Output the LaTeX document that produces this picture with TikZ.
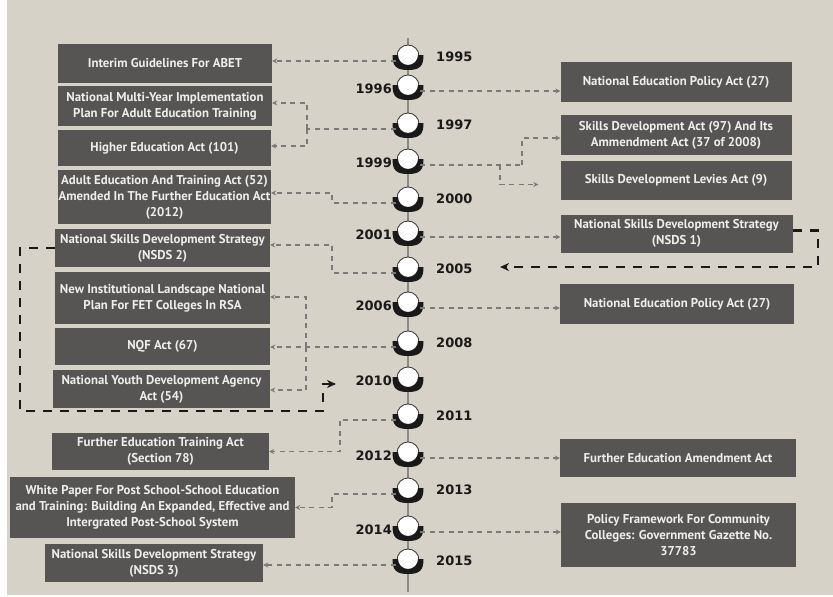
\documentclass[tikz,border=0pt]{standalone}
\usepackage{fontspec}
\setmainfont{PT Sans}
\newfontfamily\yearfont{DejaVu Sans}
\usetikzlibrary{arrows.meta}
\definecolor{paper}{HTML}{D7D2C8}
\definecolor{boxc}{HTML}{575553}
\definecolor{boxtxt}{HTML}{EDEDED}
\definecolor{linec}{HTML}{7A7A7A}
\definecolor{stemc}{HTML}{8C8A86}
\tikzset{
  yearicon/.pic={
    \fill[white] (0,0) circle[radius=11];
    \draw[line width=0.8pt,black!80] (0,0) circle[radius=11];
    \fill[black!90] (-15.5,-1) .. controls (-15.5,10) and (-12,14) .. (0,14)
      .. controls (12,14) and (15.5,10) .. (15.5,-1) -- (10,-1)
      arc[start angle=0,end angle=180,radius=10] -- cycle;
  }
}
\begin{document}
\begin{tikzpicture}[x=1pt,y=-1pt,
  box/.style={fill=boxc,text=boxtxt,font=\bfseries\fontsize{12.8}{16}\selectfont,align=center,inner sep=0pt},
  conn/.style={draw=linec,line width=1.1pt,dash pattern=on 5pt off 4.5pt,-{Stealth[length=5pt,width=5pt]}},
  connplain/.style={draw=linec,line width=1.1pt,dash pattern=on 5pt off 4.5pt},
  bigdash/.style={draw=black!90,line width=2.2pt,dash pattern=on 9pt off 8pt,-{Stealth[length=9pt,width=8pt]}},
  yr/.style={font=\yearfont\bfseries\fontsize{13}{15}\selectfont,text=black!90,inner sep=0pt},
  ipt/.style={circle,inner sep=0pt,minimum size=24pt}
]
\useasboundingbox (0,0) rectangle (833,597);
\fill[white] (0,0) rectangle (833,597);
\fill[paper] (7,0) rectangle (833,595);

% stem
\draw[stemc,line width=1.5pt] (408,38) -- (408,592);

% icons
\foreach \yy/\ay in {1995/61,1996/91,1997/129,1999/165,2000/203,2001/237,2005/273,2006/308,2008/347,2010/383,2011/420,2012/458,2013/494,2014/532,2015/565}{
  \node[ipt] (i\yy) at (408,\ay) {};
  \pic at (408,\ay-5) {yearicon};
}

% year labels
\foreach \yy/\ay in {1995/61,1997/129,2000/203,2005/273,2008/347,2011/420,2013/494,2015/565}{
  \node[yr,anchor=west] (t\yy) at (436,\ay-4) {\yy};
}
\foreach \yy/\ay in {1996/91,1999/165,2001/237,2006/308,2010/383,2012/458,2014/532}{
  \node[yr,anchor=east] (t\yy) at (392,\ay-2) {\yy};
}

% left boxes
\node[box,minimum width=214pt,minimum height=39pt] (L1) at (165,63.5) {Interim Guidelines For ABET};
\node[box,minimum width=214pt,minimum height=40pt] (L2) at (165,106) {National Multi-Year Implementation\\Plan For Adult Education Training};
\node[box,minimum width=213pt,minimum height=36pt] (L3) at (164.5,148) {Higher Education Act (101)};
\node[box,minimum width=213pt,minimum height=54pt] (L4) at (164.5,197) {Adult Education And Training Act (52)\\Amended In The Further Education Act\\(2012)};
\node[box,minimum width=215pt,minimum height=38pt] (L5) at (162.5,248) {National Skills Development Strategy\\(NSDS 2)};
\node[box,minimum width=215pt,minimum height=52pt] (L6) at (162.5,298) {New Institutional Landscape National\\Plan For FET Colleges In RSA};
\node[box,minimum width=215pt,minimum height=37pt] (L7) at (162.5,346.5) {NQF Act (67)};
\node[box,minimum width=217pt,minimum height=38pt] (L8) at (161.5,389) {National Youth Development Agency\\Act (54)};
\node[box,minimum width=217pt,minimum height=37pt] (L9) at (160.5,451.5) {Further Education Training Act\\(Section 78)};
\node[box,minimum width=285pt,minimum height=61pt] (L10) at (152.5,507.5) {White Paper For Post School-School Education\\and Training: Building An Expanded, Effective and\\Intergrated Post-School System};
\node[box,minimum width=218pt,minimum height=38pt] (L11) at (154,563) {National Skills Development Strategy\\(NSDS 3)};

% right boxes
\node[box,minimum width=231pt,minimum height=40pt] (R1) at (676,82) {National Education Policy Act (27)};
\node[box,minimum width=231pt,minimum height=40pt] (R2) at (676,135) {Skills Development Act (97) And Its\\Ammendment Act (37 of 2008)};
\node[box,minimum width=231pt,minimum height=39pt] (R3) at (676,180.5) {Skills Development Levies Act (9)};
\node[box,minimum width=232pt,minimum height=38pt] (R4) at (676.5,233.5) {National Skills Development Strategy\\(NSDS 1)};
\node[box,minimum width=234pt,minimum height=40pt] (R5) at (677,304) {National Education Policy Act (27)};
\node[box,minimum width=236pt,minimum height=38pt] (R6) at (678,458) {Further Education Amendment Act};
\node[box,minimum width=235pt,minimum height=64pt] (R7) at (678.5,535) {Policy Framework For Community\\Colleges: Government Gazette No.\\37783};

% junction coordinates
\coordinate (j1997) at (307,129);
\coordinate (j1999a) at (522,165);
\coordinate (j1999b) at (500,165);
\coordinate (j2000) at (332,203);
\coordinate (j2005) at (332,273);
\coordinate (j2008) at (306,347);
\coordinate (j2011) at (340,420);
\coordinate (j2013) at (332,494);
\coordinate (k1) at (818,267);
\coordinate (k2) at (500,267);
\coordinate (k3) at (20,411);
\coordinate (k4) at (323,384);
\coordinate (k5) at (336,384);

% connectors
\draw[conn] (i1995.west) -- (L1.east |- i1995.west);
\draw[conn] (i1996.east) -- (R1.west |- i1996.east);
\draw[connplain] (i1997.west) -- (j1997);
\draw[conn] (j1997) |- ([yshift=3pt]L2.east);
\draw[conn] (j1997) |- ([yshift=2pt]L3.east);
\draw[connplain] (i1999.east) -- (j1999a);
\draw[conn] (j1999a) |- ([yshift=-3pt]R2.west);
\draw[conn,shorten >=22pt] (j1999b) |- ([yshift=-4pt]R3.west);
\draw[conn] (i2000.west) -- (j2000) |- ([yshift=4pt]L4.east);
\draw[conn] (i2001.east) -- (R4.west |- i2001.east);
\draw[conn] (i2005.west) -- (j2005) |- ([yshift=3pt]L5.east);
\draw[conn] (i2006.east) -- (R5.west |- i2006.east);
\draw[conn] (i2008.west) -- (L7.east |- i2008.west);
\draw[conn] (j2008) |- ([yshift=1pt]L6.east);
\draw[conn] (j2008) |- ([yshift=-1pt]L8.east);
\draw[conn] (i2011.west) -- (j2011) |- (L9.east);
\draw[conn] (i2012.east) -- (R6.west |- i2012.east);
\draw[conn] (i2013.west) -- (j2013) |- (L10.east);
\draw[conn] (i2014.east) -- (R7.west |- i2014.east);
\draw[conn] (i2015.west) -- (L11.east |- i2015.west);

% black loops
\draw[bigdash] ([yshift=3pt]R4.east) -| (k1) -- (k2);
\draw[bigdash] (L5.west) -| (k3) -| (k4) -- (k5);
\end{tikzpicture}
\end{document}
